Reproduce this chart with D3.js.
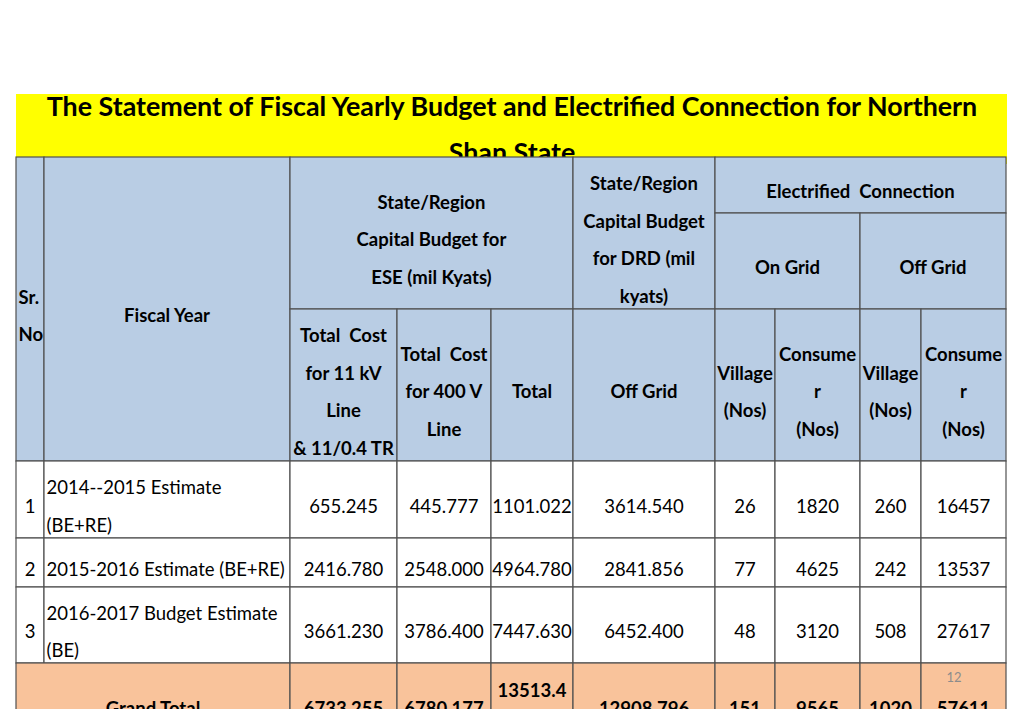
<!DOCTYPE html>
<html lang="en">
	<head>
		<meta charset="utf-8">
		<title>D3: Fiscal yearly budget table</title>
		<style type="text/css">
			body { margin: 0; background: #ffffff; }
			svg { display: block; overflow: hidden; }
		</style>
	</head>
	<body>
		<script src="https://d3js.org/d3.v7.min.js"></script>
		<script>
			//Width and height
			var w = 1024;
			var h = 709;

			//Texts and values
			var titleLines = ["The Statement of Fiscal Yearly Budget and Electrified Connection for Northern",
							  "Shan State"];
			var serialNos = ["1", "2", "3"];
			var fiscalYears = [ ["2014--2015 Estimate", "(BE+RE)"],
								["2015-2016 Estimate (BE+RE)"],
								["2016-2017 Budget Estimate", "(BE)"] ];
			var cost11kV = ["655.245", "2416.780", "3661.230"];
			var cost400V = ["445.777", "2548.000", "3786.400"];
			var eseTotal = ["1101.022", "4964.780", "7447.630"];
			var drdOffGrid = ["3614.540", "2841.856", "6452.400"];
			var onGridVillage = [26, 77, 48];
			var onGridConsumer = [1820, 4625, 3120];
			var offGridVillage = [260, 242, 508];
			var offGridConsumer = [16457, 13537, 27617];
			var grandTotalLabel = "Grand Total";
			var grandTotal = [["6733.255"], ["6780.177"], ["13513.4", "32"], ["12908.796"],
							  ["151"], ["9565"], ["1020"], ["57611"]];
			var pageNo = "12";

			//Header cells: column span, row span, text lines
			var headers = [
				{ c: [0, 1], r: [0, 3], lines: ["Sr.", "No"], align: "start" },
				{ c: [1, 2], r: [0, 3], lines: ["Fiscal Year"] },
				{ c: [2, 5], r: [0, 2], lines: ["State/Region", "Capital Budget for", "ESE (mil Kyats)"] },
				{ c: [5, 6], r: [0, 2], lines: ["State/Region", "Capital Budget", "for DRD (mil", "kyats)"] },
				{ c: [6, 10], r: [0, 1], lines: ["Electrified  Connection"] },
				{ c: [6, 8], r: [1, 2], lines: ["On Grid"] },
				{ c: [8, 10], r: [1, 2], lines: ["Off Grid"] },
				{ c: [2, 3], r: [2, 3], lines: ["Total  Cost", "for 11 kV", "Line", "& 11/0.4 TR"] },
				{ c: [3, 4], r: [2, 3], lines: ["Total  Cost", "for 400 V", "Line"] },
				{ c: [4, 5], r: [2, 3], lines: ["Total"] },
				{ c: [5, 6], r: [2, 3], lines: ["Off Grid"] },
				{ c: [6, 7], r: [2, 3], lines: ["Village", "(Nos)"] },
				{ c: [7, 8], r: [2, 3], lines: ["Consume", "r", "(Nos)"] },
				{ c: [8, 9], r: [2, 3], lines: ["Village", "(Nos)"] },
				{ c: [9, 10], r: [2, 3], lines: ["Consume", "r", "(Nos)"] }
			];

			//Grid scales: column / row index to pixel
			var xScale = d3.scaleLinear()
							.domain(d3.range(11))
							.range([16, 44, 290, 397, 491, 573, 715, 775, 860, 921, 1006]);
			var yScale = d3.scaleLinear()
							.domain(d3.range(8))
							.range([157, 213, 309, 461, 538, 587, 663, 741]);

			//Body cells built from the arrays
			var cells = [];
			serialNos.forEach(function(d, i) {
				var r = [3 + i, 4 + i];
				cells.push({ c: [0, 1], r: r, lines: [d] });
				cells.push({ c: [1, 2], r: r, lines: fiscalYears[i], align: "start" });
				[cost11kV, cost400V, eseTotal, drdOffGrid,
				 onGridVillage, onGridConsumer, offGridVillage, offGridConsumer].forEach(function(arr, j) {
					cells.push({ c: [2 + j, 3 + j], r: r, lines: [String(arr[i])] });
				});
			});
			cells.push({ c: [0, 2], r: [6, 7], lines: [grandTotalLabel], bold: true, fill: "#f9c39b" });
			grandTotal.forEach(function(d, j) {
				cells.push({ c: [2 + j, 3 + j], r: [6, 7], lines: d, bold: true, fill: "#f9c39b" });
			});
			headers.forEach(function(d) {
				d.bold = true;
				d.fill = "#b9cde4";
			});
			var allCells = headers.concat(cells);

			//Create SVG element
			var svg = d3.select("body")
						.append("svg")
						.attr("width", w)
						.attr("height", h);

			//Title band
			svg.append("rect")
			   .attr("x", 16)
			   .attr("y", 94)
			   .attr("width", 991)
			   .attr("height", 70)
			   .attr("fill", "#ffff00");

			svg.selectAll("text.title")
			   .data(titleLines)
			   .enter()
			   .append("text")
			   .attr("class", "title")
			   .text(function(d) { return d; })
			   .attr("transform", function(d, i) {
					return "translate(512," + (107 + i * 46) + ") scale(1.04,1)";
			   })
			   .attr("dy", "0.35em")
			   .attr("text-anchor", "middle")
			   .attr("font-family", "Lato, sans-serif")
			   .attr("font-weight", "bold")
			   .attr("font-size", "25.8px")
			   .attr("fill", "#000000");

			//Cells
			svg.selectAll("rect.cell")
			   .data(allCells)
			   .enter()
			   .append("rect")
			   .attr("class", "cell")
			   .attr("x", function(d) { return xScale(d.c[0]); })
			   .attr("y", function(d) { return yScale(d.r[0]); })
			   .attr("width", function(d) { return xScale(d.c[1]) - xScale(d.c[0]); })
			   .attr("height", function(d) { return yScale(d.r[1]) - yScale(d.r[0]); })
			   .attr("fill", function(d) { return d.fill || "#ffffff"; })
			   .attr("stroke", "#505050")
			   .attr("stroke-width", 1.2);

			//Cell texts
			var lineH = 37.5;
			var groups = svg.selectAll("g.celltext")
							.data(allCells)
							.enter()
							.append("g")
							.attr("class", "celltext");

			groups.selectAll("text")
				  .data(function(d) {
					  var cy = (yScale(d.r[0]) + yScale(d.r[1])) / 2 + 7;
					  var n = d.lines.length;
					  return d.lines.map(function(t, k) {
						  return {
							  text: t,
							  x: d.align === "start" ? xScale(d.c[0]) + 2.5 : (xScale(d.c[0]) + xScale(d.c[1])) / 2,
							  y: cy + (k - (n - 1) / 2) * lineH,
							  anchor: d.align || "middle",
							  bold: d.bold
						  };
					  });
				  })
				  .enter()
				  .append("text")
				  .text(function(d) { return d.text; })
				  .attr("x", function(d) { return d.x; })
				  .attr("y", function(d) { return d.y; })
				  .attr("dy", "0.35em")
				  .attr("text-anchor", function(d) { return d.anchor; })
				  .attr("font-family", "Lato, sans-serif")
				  .attr("font-weight", function(d) { return d.bold ? "bold" : "normal"; })
				  .attr("font-size", "18.5px")
				  .attr("fill", "#000000")
				  .style("white-space", "pre");

			//Slide number
			svg.append("text")
			   .text(pageNo)
			   .attr("x", 954)
			   .attr("y", 677)
			   .attr("dy", "0.35em")
			   .attr("text-anchor", "middle")
			   .attr("font-family", "Lato, sans-serif")
			   .attr("font-size", "13px")
			   .attr("fill", "#8c8c8c");
		</script>
	</body>
</html>
